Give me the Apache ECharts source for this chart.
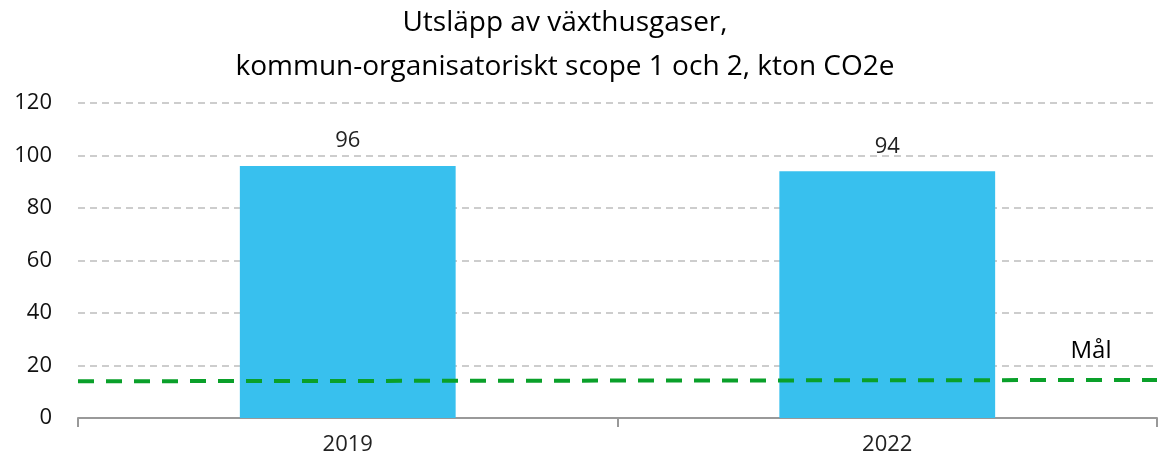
<!doctype html>
<html>
<head>
<meta charset="UTF-8">
<title>Utsläpp av växthusgaser</title>
<script src="https://cdn.jsdelivr.net/npm/echarts@6/dist/echarts.min.js"></script>
<style>
  html, body { margin: 0; padding: 0; background: #fff; }
  #main { width: 1158px; height: 467px; }
</style>
</head>
<body>
<div id="main"></div>
<script>
// data
var years = ['2019', '2022'];
var utslapp = [96, 94];
var malX = [0, 1];        // target line runs across the full plot width
var malY = [14, 14.5];
var yTicks = [0, 20, 40, 60, 80, 100, 120];

var font = '"Open Sans", "DejaVu Sans", sans-serif';
var chart = echarts.init(document.getElementById('main'));

var malData = malX.map(function (x, i) {
  var d = { value: [x, malY[i]] };
  if (i === malY.length - 1) {
    d.label = {
      show: true, formatter: 'Mål', position: 'top',
      offset: [-66, -12], color: '#000', fontSize: 24, fontFamily: font
    };
  }
  return d;
});

var option = {
  animation: false,
  title: {
    text: 'Utsläpp av växthusgaser,\nkommun-organisatoriskt scope 1 och 2, kton CO2e',
    left: 560, top: -4, textAlign: 'center',
    textStyle: { fontFamily: font, fontWeight: 'normal', fontSize: 28, color: '#000', lineHeight: 44 }
  },
  grid: { left: 78, right: 1, top: 103, bottom: 49 },
  xAxis: [{
    type: 'category',
    data: years,
    axisLine: { lineStyle: { color: '#999', width: 2 } },
    axisTick: { show: true, length: 9, lineStyle: { color: '#999', width: 2 } },
    axisLabel: { color: '#222', fontSize: 22, fontFamily: font, margin: 16 }
  }, {
    type: 'value', min: 0, max: 1, show: false
  }],
  yAxis: {
    type: 'value',
    min: yTicks[0], max: yTicks[yTicks.length - 1], interval: 20,
    axisLine: { show: false },
    axisTick: { show: false },
    axisLabel: { color: '#111', fontSize: 22, fontFamily: font, margin: 26 },
    splitLine: { lineStyle: { color: '#bdbdbd', width: 1.5, type: [7, 5] } }
  },
  series: [{
    type: 'bar',
    data: utslapp,
    barWidth: '40%',
    itemStyle: { color: '#38C0EE' },
    label: { show: true, position: 'top', distance: 14, color: '#222', fontSize: 22, fontFamily: font }
  }, {
    type: 'line',
    xAxisIndex: 1,
    data: malData,
    symbol: 'circle',
    symbolSize: 0,
    showSymbol: true,
    lineStyle: { color: '#0AA02A', width: 4, type: [16, 12] },
    z: 5
  }]
};
chart.setOption(option);
</script>
</body>
</html>
